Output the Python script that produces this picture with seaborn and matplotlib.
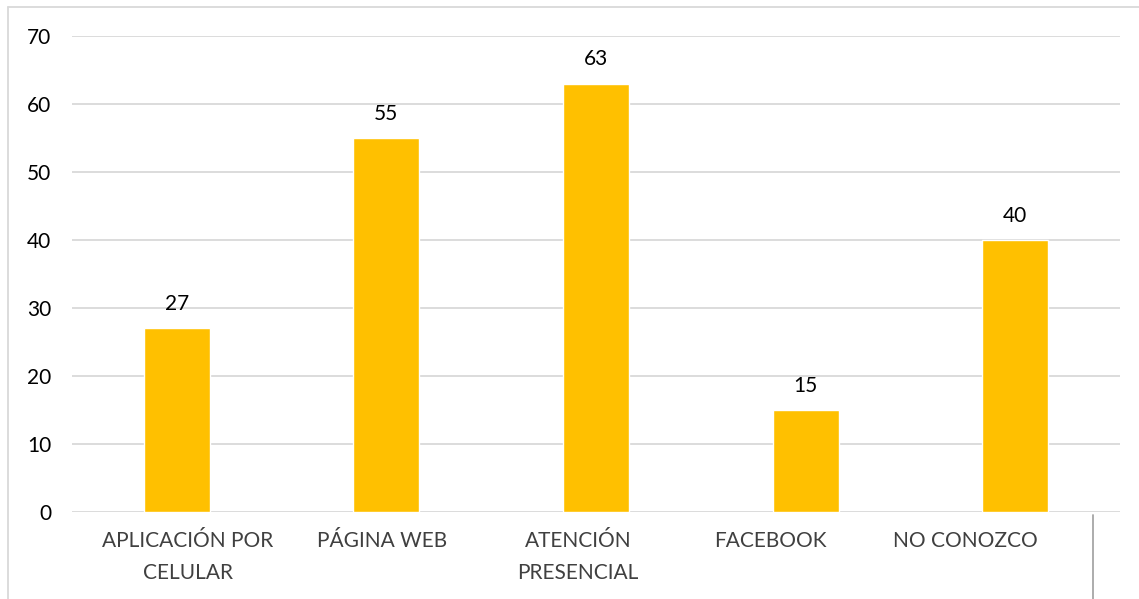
import matplotlib.pyplot as plt
import matplotlib.transforms as mtransforms
import seaborn as sns
import pandas as pd
from matplotlib.lines import Line2D

categorias = ['APLICACIÓN POR\nCELULAR', 'PÁGINA WEB', 'ATENCIÓN\nPRESENCIAL', 'FACEBOOK', 'NO CONOZCO']
valores = [27, 55, 63, 15, 40]
ticks_y = [0, 10, 20, 30, 40, 50, 60, 70]

df = pd.DataFrame({'categoria': categorias, 'valor': valores})

sns.set_style('white')
plt.rcParams['font.family'] = ['Lato', 'DejaVu Sans']

fig = plt.figure(figsize=(11.39, 5.99), dpi=100)
ax = fig.add_axes([72 / 1139, 1 - 512 / 599, 1048 / 1139, 476 / 599])

sns.barplot(data=df, x='categoria', y='valor', color='#FFC000', saturation=1,
            width=0.315, ax=ax)

# etiquetas de datos
for i, v in enumerate(valores):
    ax.text(i, v + 2.1, str(v), ha='center', va='bottom', fontsize=15, color='black')

ax.set_ylim(0, 70)
ax.set_xlim(-0.5, len(categorias) - 0.5)
ax.set_yticks(ticks_y)
ax.yaxis.grid(True, color='#D9D9D9', linewidth=1.3)
ax.set_axisbelow(True)
for s in ax.spines.values():
    s.set_visible(False)
ax.tick_params(axis='y', length=0, pad=15, labelsize=15, labelcolor='black')
ax.tick_params(axis='x', length=0, pad=14, labelsize=15, labelcolor='#404040')
ax.set_xlabel('')
ax.set_ylabel('')

# desplazamiento horizontal de las etiquetas (como en el original)
desplaz_px = [11, -4, -18, -35, -50]
for lbl, dx in zip(ax.get_xticklabels(), desplaz_px):
    lbl.set_linespacing(1.75)
    lbl.set_transform(lbl.get_transform() + mtransforms.ScaledTranslation(dx / 100, 0, fig.dpi_scale_trans))

# borde del gráfico
fig.add_artist(Line2D([8 / 1139, 8 / 1139], [0, 1 - 7 / 599], color='#D9D9D9', lw=1.3))
fig.add_artist(Line2D([8 / 1139, 1], [1 - 7 / 599, 1 - 7 / 599], color='#D9D9D9', lw=1.3))
fig.add_artist(Line2D([1093 / 1139, 1093 / 1139], [0, 1 - 515 / 599], color='#A6A6A6', lw=1.3))

plt.savefig('out.png', dpi=100)
